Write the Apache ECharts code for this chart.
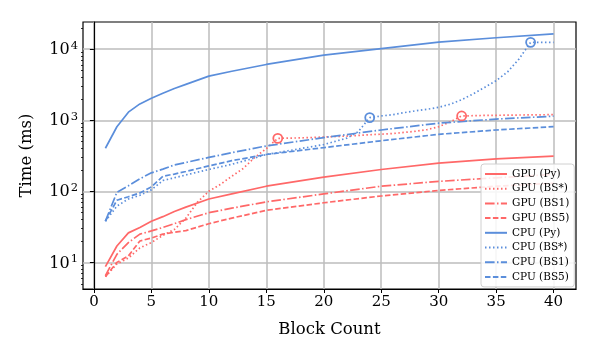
<!DOCTYPE html>
<html>
<head>
<meta charset="utf-8">
<script src="https://cdn.jsdelivr.net/npm/echarts@6/dist/echarts.min.js"></script>
<style>
  html, body { margin: 0; padding: 0; background: #fff; }
  #chart { width: 598px; height: 359px; }
</style>
</head>
<body>
<div id="chart"></div>
<script>
// block counts used by the Py / BS1 / BS5 curves
var blocks = [1, 2, 3, 4, 5, 6, 7, 8, 10, 12, 15, 20, 25, 30, 35, 40];

var gpuPy  = [8.7, 17, 26, 31, 38, 44, 52, 60, 78, 92, 118, 158, 203, 250, 286, 312];
var gpuBs1 = [6.5, 13, 19, 25, 27.7, 31, 35, 40, 50, 58, 71, 92, 118, 138, 155, 173];
var gpuBs5 = [6.3, 10, 12.3, 20, 22, 25, 26.5, 28, 35, 42, 54, 69, 86, 103, 118, 130];

var cpuPy  = [404, 810, 1300, 1700, 2040, 2400, 2800, 3200, 4180, 4900, 6100, 8240, 10200, 12600, 14500, 16400];
var cpuBs1 = [38, 97, 120, 150, 182, 205, 235, 255, 300, 350, 435, 570, 730, 910, 1040, 1140];
var cpuBs5 = [38, 75, 84, 95, 115, 163, 175, 190, 228, 270, 330, 412, 515, 634, 730, 813];

// BS* curves are sampled more densely
var gpuBsStarBlocks = [1, 2, 3, 4, 5, 6, 7, 8, 9, 10, 11, 12, 13, 14, 15, 16, 18, 20, 22, 24, 26, 28, 29, 30, 31, 32, 34, 36, 38, 40];
var gpuBsStar = [6.3, 9.5, 11.5, 16, 19, 24, 29, 42, 70, 100, 125, 163, 210, 300, 400, 557, 565, 580, 600, 625, 650, 700, 740, 810, 950, 1150, 1170, 1180, 1190, 1200];
var gpuBsStarMarks = [16, 32];

var cpuBsStarBlocks = [1, 2, 3, 4, 5, 6, 7, 8, 10, 12, 14, 15, 16, 18, 20, 22, 23, 24, 25, 26, 27, 28, 29, 30, 31, 32, 33, 34, 35, 36, 37, 38, 39, 40];
var cpuBsStar = [38, 62, 78, 88, 105, 142, 155, 170, 203, 240, 295, 330, 350, 400, 455, 560, 690, 1090, 1150, 1200, 1280, 1360, 1430, 1520, 1680, 1950, 2350, 2900, 3600, 4800, 7300, 12500, 12500, 12500];
var cpuBsStarMarks = [24, 38];

var xTicks = [0, 5, 10, 15, 20, 25, 30, 35, 40];
var yTicks = [10, 100, 1000, 10000];
var yMinorTicks = [5, 6, 7, 8, 9, 20, 30, 40, 50, 60, 70, 80, 90, 200, 300, 400, 500, 600, 700, 800, 900,
                   2000, 3000, 4000, 5000, 6000, 7000, 8000, 9000, 20000];

var RED = '#ff6868';
var BLUE = '#5b8edb';
var FONT = 'DejaVu Serif';

var DOTTED = [1.5, 2.5];
var DASHED = [5.5, 2.4];
var DASHDOT = [9.6, 2.4, 1.5, 2.4];

function pairs(xs, ys, marks) {
    return xs.map(function (x, i) {
        var item = { value: [x, ys[i]] };
        if (marks && marks.indexOf(x) >= 0) {
            item.symbol = 'circle';
            item.symbolSize = 9;
        }
        return item;
    });
}

function mkSeries(name, color, dash, xs, ys, marks) {
    return {
        name: name,
        type: 'line',
        data: pairs(xs, ys, marks),
        symbol: 'none',
        showSymbol: true,
        clip: true,
        animation: false,
        lineStyle: { color: color, width: 1.7, type: dash },
        itemStyle: { color: 'rgba(255,255,255,0)', borderColor: color, borderWidth: 1.8 }
    };
}

var series = [
    mkSeries('GPU (Py)', RED, 'solid', blocks, gpuPy),
    mkSeries('GPU (BS*)', RED, DOTTED, gpuBsStarBlocks, gpuBsStar, gpuBsStarMarks),
    mkSeries('GPU (BS1)', RED, DASHDOT, blocks, gpuBs1),
    mkSeries('GPU (BS5)', RED, DASHED, blocks, gpuBs5),
    mkSeries('CPU (Py)', BLUE, 'solid', blocks, cpuPy),
    mkSeries('CPU (BS*)', BLUE, DOTTED, cpuBsStarBlocks, cpuBsStar, cpuBsStarMarks),
    mkSeries('CPU (BS1)', BLUE, DASHDOT, blocks, cpuBs1),
    mkSeries('CPU (BS5)', BLUE, DASHED, blocks, cpuBs5)
];

var option = {
    backgroundColor: '#fff',
    animation: false,
    grid: {
        left: 83, top: 22, right: 22, bottom: 70,
        show: true, borderColor: '#000', borderWidth: 1.2, backgroundColor: 'transparent'
    },
    legend: {
        orient: 'vertical',
        left: 481, top: 164,
        padding: [4, 5, 4, 3],
        itemWidth: 22, itemHeight: 10, itemGap: 2.7,
        backgroundColor: 'rgba(255,255,255,0.85)',
        borderColor: '#d0d0d0', borderWidth: 1, borderRadius: 3,
        itemStyle: { opacity: 0 },
        textStyle: { fontFamily: FONT, fontSize: 10.5, color: '#000', lineHeight: 12 },
        data: series.map(function (s) { return s.name; })
    },
    xAxis: {
        type: 'value',
        min: -0.95, max: 41.95,
        name: 'Block Count',
        nameLocation: 'middle',
        nameGap: 32,
        nameTextStyle: { fontFamily: FONT, fontSize: 16.5, color: '#000' },
        axisLine: { show: true, lineStyle: { color: '#000', width: 1.2 } },
        axisTick: { show: true, inside: false, length: 4, customValues: xTicks, lineStyle: { color: '#000' } },
        axisLabel: { customValues: xTicks, fontFamily: FONT, fontSize: 15, color: '#000', margin: 6 },
        splitLine: { show: true, lineStyle: { color: '#bdbdbd', width: 1.5 } }
    },
    yAxis: [{
        type: 'log',
        min: 4.22, max: 24150,
        name: 'Time (ms)',
        nameLocation: 'middle',
        nameGap: 48,
        nameTextStyle: { fontFamily: FONT, fontSize: 16.5, color: '#000' },
        axisLine: { show: true, lineStyle: { color: '#000', width: 1.2 } },
        axisTick: { show: true, length: 4, customValues: yTicks, lineStyle: { color: '#000' } },
        axisLabel: {
            customValues: yTicks,
            margin: 5,
            formatter: function (v) {
                return '{b|10}{s|' + Math.round(Math.log10(v)) + '}';
            },
            rich: {
                b: { fontFamily: FONT, fontSize: 16, color: '#000', verticalAlign: 'bottom' },
                s: { fontFamily: FONT, fontSize: 11.5, color: '#000', verticalAlign: 'bottom', padding: [0, 0, 6, 1] }
            }
        },
        splitLine: { show: true, lineStyle: { color: '#bdbdbd', width: 1.5 } }
    }, {
        type: 'log',
        min: 4.22, max: 24150,
        position: 'left',
        axisLine: { show: false },
        axisTick: { show: true, length: 2, customValues: yMinorTicks, lineStyle: { color: '#000', width: 0.8 } },
        axisLabel: { show: false },
        splitLine: { show: false }
    }],
    series: series
};

var chart = echarts.init(document.getElementById('chart'), null, { renderer: 'canvas' });
chart.setOption(option);
</script>
</body>
</html>
